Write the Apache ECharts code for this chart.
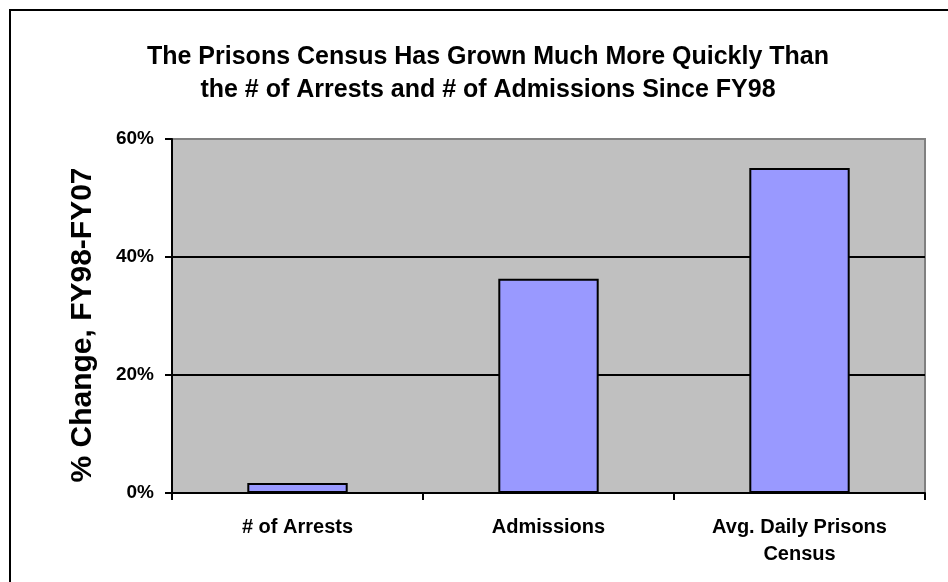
<!DOCTYPE html>
<html>
<head>
<meta charset="utf-8">
<script src="https://cdn.jsdelivr.net/npm/echarts@6/dist/echarts.min.js"></script>
<style>
  html, body { margin: 0; padding: 0; background: #fff; }
  #chart { width: 948px; height: 582px; }
</style>
</head>
<body>
<div id="chart"></div>
<script>
// Percent change FY98-FY07 by measure
const categories = ['# of Arrests', 'Admissions', 'Avg. Daily Prisons\nCensus'];
const pctChange = [1.7, 36.3, 55.1];
const yTicks = [0, 20, 40, 60];

const titleLines = [
  'The Prisons Census Has Grown Much More Quickly Than',
  'the # of Arrests and # of Admissions Since FY98'
];
const yAxisTitle = '% Change, FY98-FY07';

const font = 'Arial, "Liberation Sans", sans-serif';
const chart = echarts.init(document.getElementById('chart'));

chart.setOption({
  animation: false,
  backgroundColor: '#ffffff',
  title: {
    text: titleLines.join('\n'),
    left: 483,
    textAlign: 'center',
    top: 36,
    textStyle: {
      fontFamily: font,
      fontWeight: 'bold',
      fontSize: 25,
      lineHeight: 33,
      color: '#000'
    }
  },
  graphic: [
    {
      // outer chart frame
      type: 'rect',
      shape: { x: 10, y: 10, width: 960, height: 600 },
      style: { fill: null, stroke: '#000', lineWidth: 2 },
      z: 100
    },
    {
      // value axis title, rotated
      type: 'text',
      x: 83,
      y: 325,
      rotation: Math.PI / 2,
      style: {
        text: yAxisTitle,
        fontFamily: font,
        fontWeight: 'bold',
        fontSize: 30,
        fill: '#000',
        align: 'center',
        verticalAlign: 'middle'
      }
    }
  ],
  grid: {
    left: 172,
    right: 23,
    top: 139,
    bottom: 89,
    show: true,
    backgroundColor: '#c0c0c0',
    borderColor: '#808080',
    borderWidth: 2
  },
  xAxis: {
    type: 'category',
    data: categories,
    axisLine: { show: true, lineStyle: { color: '#000', width: 2 } },
    axisTick: { show: true, alignWithLabel: false, length: 7, lineStyle: { color: '#000', width: 2 } },
    axisLabel: {
      fontFamily: font,
      fontWeight: 'bold',
      fontSize: 20,
      color: '#000',
      margin: 21,
      lineHeight: 27,
      interval: 0
    },
    splitLine: { show: false }
  },
  yAxis: {
    type: 'value',
    min: yTicks[0],
    max: yTicks[yTicks.length - 1],
    interval: yTicks[1] - yTicks[0],
    axisLine: { show: true, lineStyle: { color: '#000', width: 2 } },
    axisTick: { show: true, length: 7, lineStyle: { color: '#000', width: 2 } },
    axisLabel: {
      fontFamily: font,
      fontWeight: 'bold',
      fontSize: 19,
      color: '#000',
      margin: 18,
      formatter: v => v + '%'
    },
    splitLine: {
      show: true,
      showMinLine: false,
      showMaxLine: false,
      lineStyle: { color: '#000', width: 2 }
    }
  },
  series: [{
    type: 'bar',
    data: pctChange,
    barWidth: '40%',
    itemStyle: {
      color: '#9999ff',
      borderColor: '#000',
      borderWidth: 2
    }
  }]
});
</script>
</body>
</html>
